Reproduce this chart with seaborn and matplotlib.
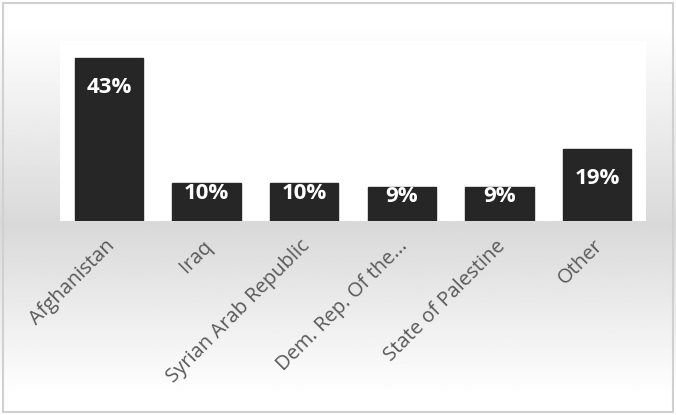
import numpy as np
import pandas as pd
import matplotlib
matplotlib.use("Agg")
import matplotlib.pyplot as plt
import matplotlib.transforms as mtrans
from matplotlib.patches import Rectangle
import seaborn as sns

categories = ["Afghanistan", "Iraq", "Syrian Arab Republic", "Dem. Rep. Of the...",
              "State of Palestine", "Other"]
values = [43, 10, 10, 9, 9, 19]
labels = ["43%", "10%", "10%", "9%", "9%", "19%"]

sns.set_theme(style="white")
plt.rcParams["font.family"] = ["Open Sans", "DejaVu Sans"]

W, H = 676, 415
fig = plt.figure(figsize=(W / 100, H / 100), dpi=100)

# background gradient
bg = fig.add_axes([0, 0, 1, 1], zorder=0)
ys = np.arange(H)
prof = np.interp(ys, [0, 25, 225, 395, 415], [1.0, 1.0, 0.85, 1.0, 1.0])
img = np.repeat(prof[:, None], 10, axis=1)
bg.imshow(img, cmap="gray", vmin=0, vmax=1, aspect="auto", extent=[0, W, H, 0])
bg.add_patch(Rectangle((3, 3), W - 6, H - 6, fill=False, edgecolor="#d0d0d0", lw=1.5))
bg.set_xlim(0, W)
bg.set_ylim(H, 0)
bg.axis("off")

# main axes
x0, x1, y0, y1 = 60, 646, 41, 221
ax = fig.add_axes([x0 / W, 1 - y1 / H, (x1 - x0) / W, (y1 - y0) / H], zorder=1)
ax.set_facecolor("white")
df = pd.DataFrame({"cat": categories, "val": values})
sns.barplot(data=df, x="cat", y="val", color="#262626", width=0.7, saturation=1,
            ax=ax, edgecolor="#262626")
ax.set_xlim(-0.5, 5.5)
ax.set_ylim(0, 47.5)
for s in ax.spines.values():
    s.set_visible(False)
ax.set_yticks([])
ax.set_xlabel("")
ax.set_ylabel("")
ax.tick_params(axis="x", length=0, pad=16, labelsize=14.5, labelcolor="#595959")
shift = mtrans.ScaledTranslation(3 / 100, 0, fig.dpi_scale_trans)
for t in ax.get_xticklabels():
    t.set_rotation(45)
    t.set_ha("right")
    t.set_va("center")
    t.set_rotation_mode("anchor")
    t.set_transform(t.get_transform() + shift)

for i, (v, lab) in enumerate(zip(values, labels)):
    yl = v - 7.7 if v - 7.7 > v / 2 else v * 0.72
    ax.text(i, yl, lab, ha="center", va="center", color="white",
            fontsize=16, fontweight="bold")

fig.savefig("out.png", dpi=100)
